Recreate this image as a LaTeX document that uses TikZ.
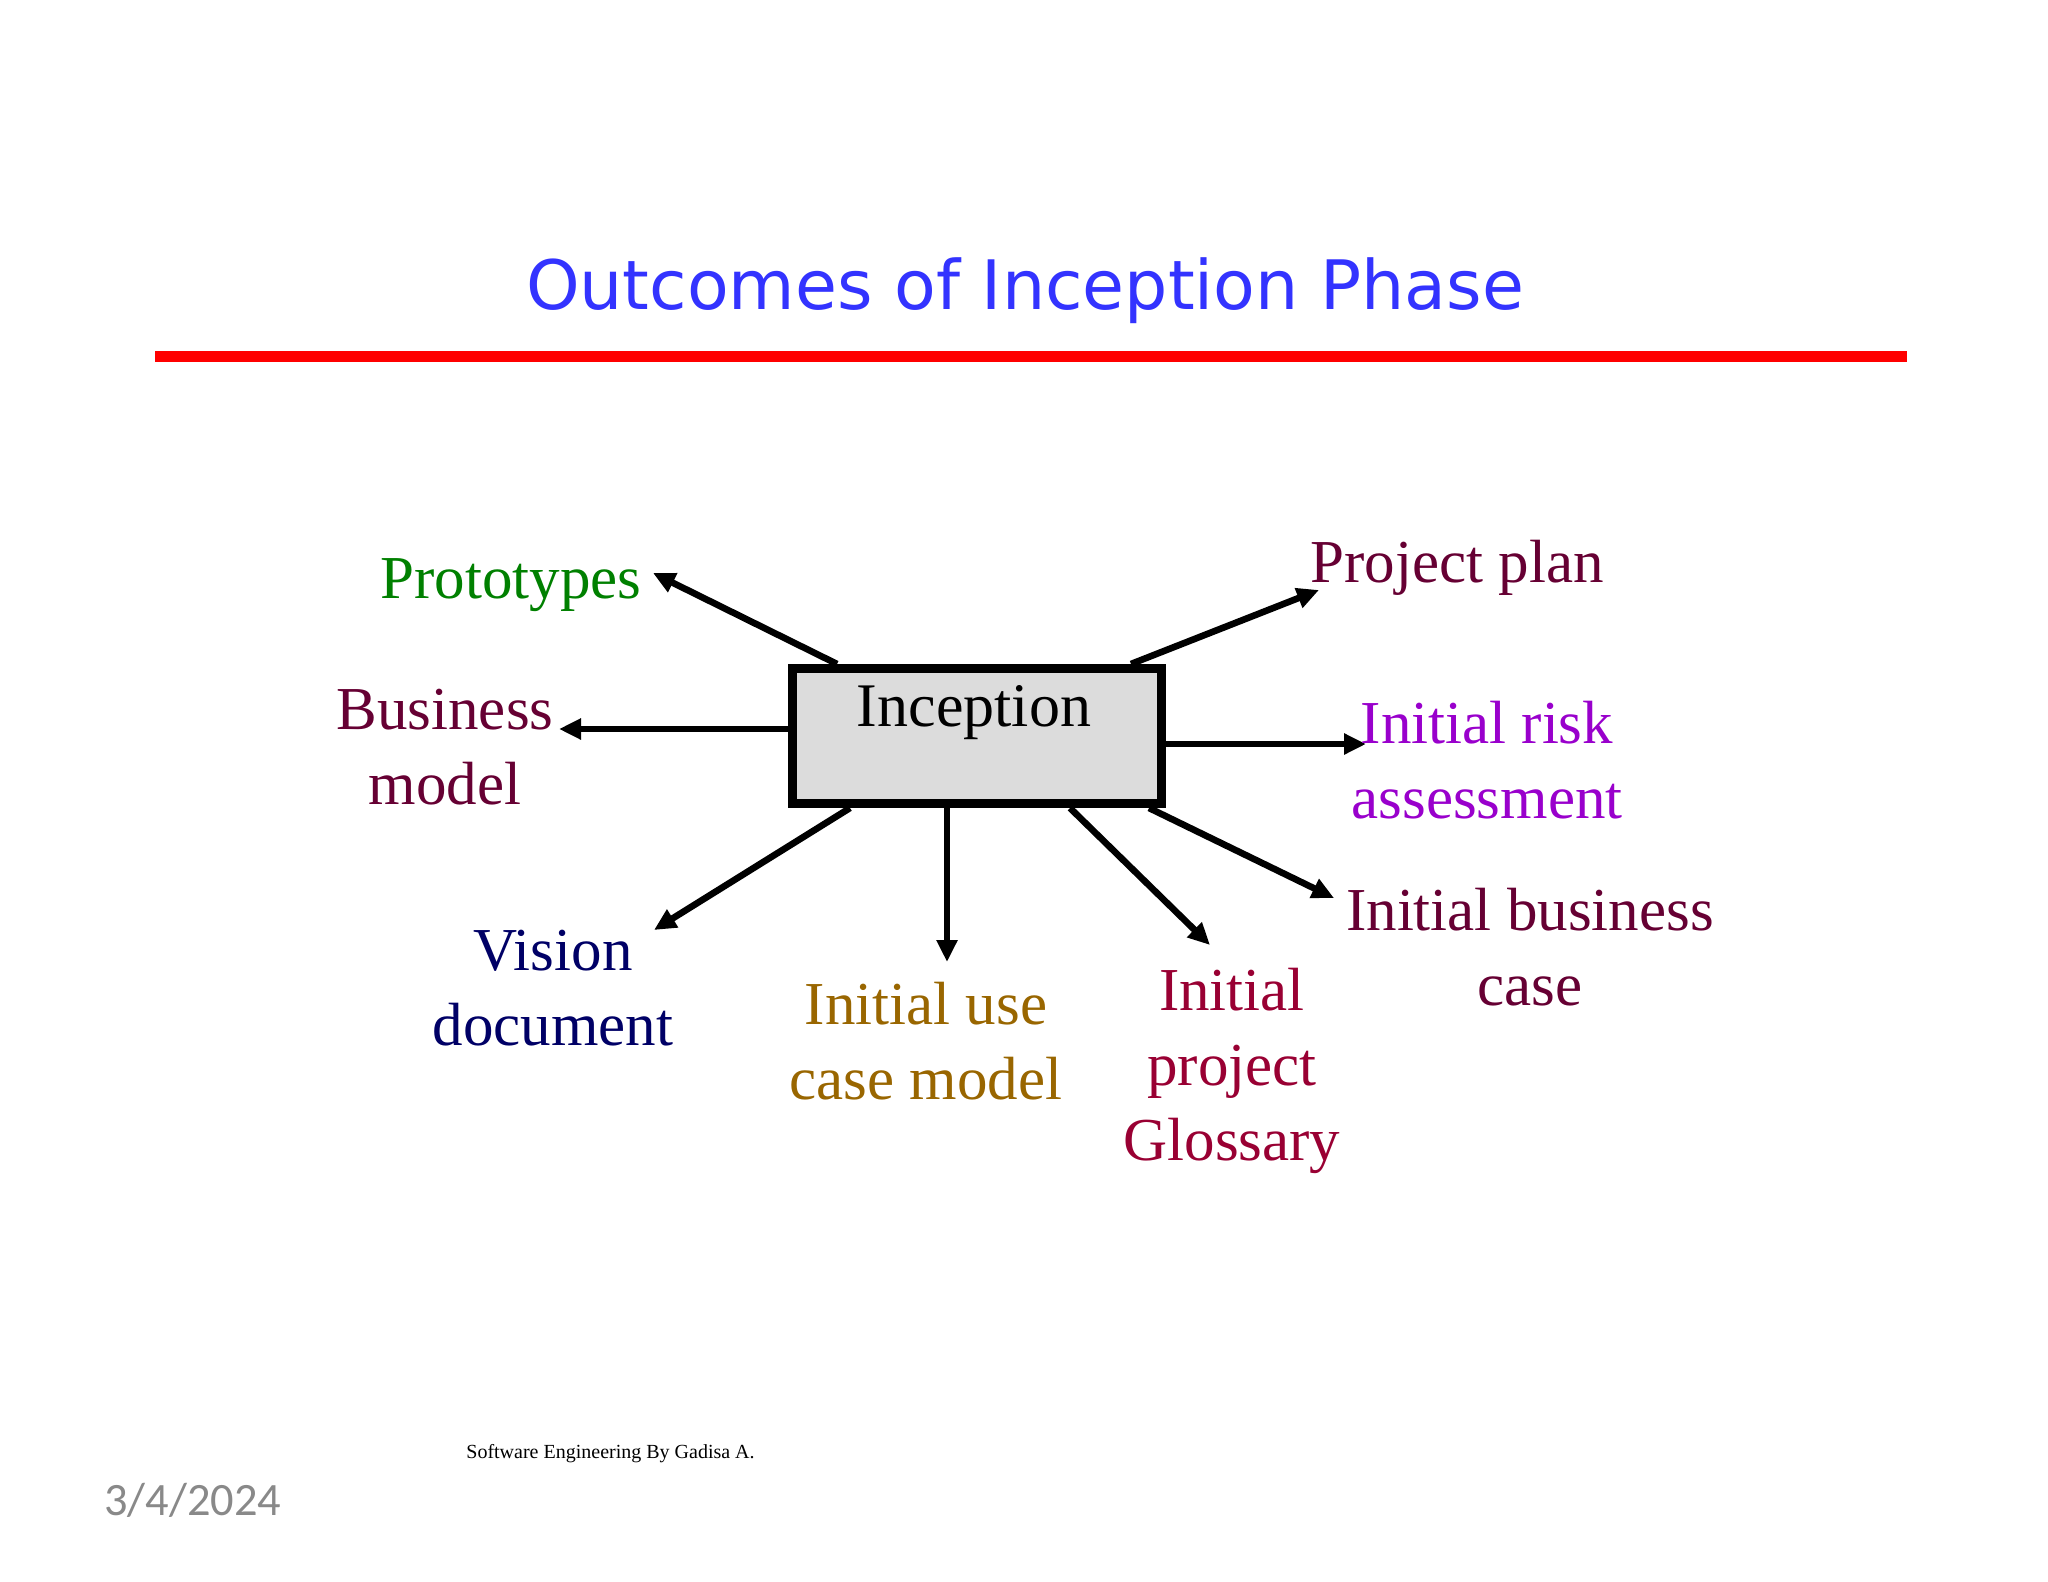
\documentclass[tikz,border=0pt]{standalone}
\usepackage{fontspec}
\setmainfont{Liberation Serif}
\newfontfamily\titlefont{DejaVu Sans}
\newfontfamily\datefont{Carlito}
\usetikzlibrary{arrows.meta,backgrounds,calc}
\definecolor{titleblue}{RGB}{51,51,255}
\definecolor{rulered}{RGB}{255,0,0}
\definecolor{boxgray}{RGB}{220,220,220}
\definecolor{protogreen}{RGB}{0,128,0}
\definecolor{maroon}{RGB}{102,0,51}
\definecolor{riskpurple}{RGB}{153,0,204}
\definecolor{visionnavy}{RGB}{0,0,102}
\definecolor{usegold}{RGB}{153,102,0}
\definecolor{glosscrimson}{RGB}{153,0,51}
\definecolor{dategray}{RGB}{137,137,137}
\begin{document}
\begin{tikzpicture}[x=0.5pt,y=-0.5pt,
  lbl/.style={font=\fontsize{30.5}{37.5}\selectfont, align=center, inner sep=0pt, anchor=base},
  outarrow/.style={line width=3.3pt, -{Triangle[length=11pt,width=10pt]}},
  stagebox/.style={draw=black, line width=4.5pt, fill=boxgray, minimum width=184.5pt, minimum height=67.5pt, inner sep=0pt}]
\useasboundingbox (0,0) rectangle (2048,1582);
% title and rule
\node[anchor=base, inner sep=0pt, text=titleblue, font=\titlefont\fontsize{34.1}{40}\selectfont] (title) at (1025,310) {Outcomes of Inception Phase};
\coordinate (ruleL) at (155,357);
\coordinate (ruleR) at (1907,357);
\draw[rulered, line width=5.5pt] (ruleL) -- (ruleR);
% central box
\node[stagebox] (inc) at (977,736) {};
\node[anchor=base, inner sep=0pt, font=\fontsize{31}{37}\selectfont] (inctext) at (974,726) {Inception};
% labels (base anchor = baseline of the last line)
\node[lbl, text=protogreen] (proto) at (511,598) {Prototypes};
\node[lbl, text=maroon] (bmodel) at (445,804) {Business\\model};
\node[lbl, text=maroon] (pplan) at (1457,582) {Project plan};
\node[lbl, text=riskpurple] (risk) at (1487,818) {Initial risk\\assessment};
\node[lbl, text=maroon] (bcase) at (1530,1005) {Initial business\\case};
\node[lbl, text=visionnavy] (vision) at (553,1045) {Vision\\document};
\node[lbl, text=usegold] (usecase) at (926,1099) {Initial use\\case model};
\node[lbl, text=glosscrimson] (gloss) at (1232,1160) {Initial\\project\\Glossary};
% arrow tips
\coordinate (tproto) at (653,573);
\coordinate (tbmodel) at (559,729);
\coordinate (tpplan) at (1319,590);
\coordinate (trisk) at (1366,744);
\coordinate (tbcase) at (1334,898);
\coordinate (tgloss) at (1210,945);
\coordinate (tusecase) at (947,962);
\coordinate (tvision) at (654,930);
% arrows
\begin{scope}[on background layer]
\draw[outarrow] ($(inc.north west)+(49,0)$) -- (tproto);
\draw[outarrow] ($(inc.west)+(0,-7)$) -- (tbmodel);
\draw[outarrow] ($(inc.north west)+(343,0)$) -- (tpplan);
\draw[outarrow] ($(inc.east)+(0,8)$) -- (trisk);
\draw[outarrow] ($(inc.south west)+(361,0)$) -- (tbcase);
\draw[outarrow] ($(inc.south west)+(282,0)$) -- (tgloss);
\draw[outarrow] ($(inc.south west)+(159,0)$) -- (tusecase);
\draw[outarrow] ($(inc.south west)+(62,0)$) -- (tvision);
\end{scope}
% footer
\node[anchor=base west, inner sep=0pt, font=\fontsize{10}{12}\selectfont] (footer) at (466,1458) {Software Engineering By Gadisa A.};
\node[anchor=base west, inner sep=0pt, text=dategray, font=\datefont\fontsize{23.2}{28}\selectfont] (date) at (104,1515) {3/4/2024};
\end{tikzpicture}
\end{document}
